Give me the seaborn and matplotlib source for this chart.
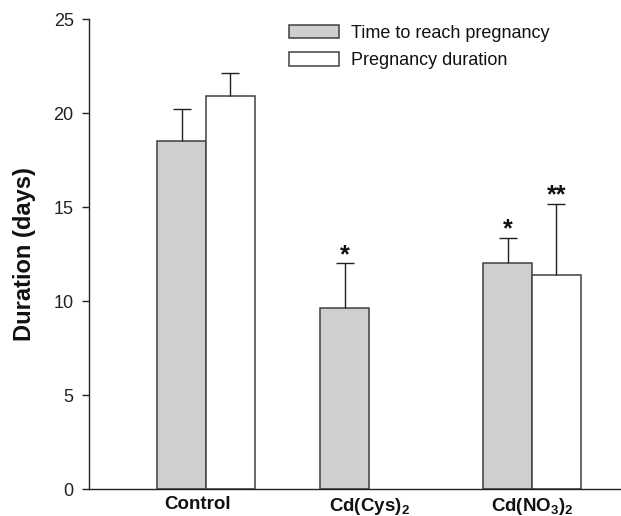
import matplotlib
matplotlib.use("Agg")
import matplotlib.pyplot as plt
import matplotlib.transforms as mtransforms
import seaborn as sns
import pandas as pd
import numpy as np

# ---- data ----
groups = ["Control", "Cd(Cys)$_\\mathbf{2}$", "Cd(NO$_\\mathbf{3}$)$_\\mathbf{2}$"]
series = ["Time to reach pregnancy", "Pregnancy duration"]
time_to_pregnancy = [18.5, 9.65, 12.0]
pregnancy_duration = [20.9, np.nan, 11.4]
time_err = [1.7, 2.35, 1.35]
duration_err = [1.25, np.nan, 3.75]
time_sig = ["", "*", "*"]
duration_sig = ["", "", "**"]
y_ticks = [0, 5, 10, 15, 20, 25]

sns.set_theme(style="white")
plt.rcParams["font.family"] = ["Liberation Sans", "DejaVu Sans"]
plt.rcParams["mathtext.fontset"] = "custom"
plt.rcParams["mathtext.rm"] = "Liberation Sans"
plt.rcParams["mathtext.bf"] = "Liberation Sans:bold"

df = pd.DataFrame({
    "group": groups * 2,
    "series": [series[0]] * 3 + [series[1]] * 3,
    "value": time_to_pregnancy + pregnancy_duration,
})
errs = {(series[0], i): e for i, e in enumerate(time_err)}
errs.update({(series[1], i): e for i, e in enumerate(duration_err)})
sigs = {(series[0], i): s for i, s in enumerate(time_sig)}
sigs.update({(series[1], i): s for i, s in enumerate(duration_sig)})

fig = plt.figure(figsize=(6.21, 5.16), dpi=100)
ax = fig.add_axes([89 / 621, 1 - 489 / 516, 532 / 621, 470 / 516])

sns.barplot(data=df, x="group", y="value", hue="series", order=groups,
            hue_order=series, palette=["#cfcfcf", "white"], width=0.6,
            edgecolor="#404040", linewidth=1.1, errorbar=None, ax=ax,
            saturation=1)

for cont, s in zip(ax.containers, series):
    for p in cont.patches:
        h = p.get_height()
        if not np.isfinite(h):
            continue
        cx = p.get_x() + p.get_width() / 2
        gi = int(round(cx))
        e = errs[(s, gi)]
        _, caps, _ = ax.errorbar([cx], [h], yerr=[[0], [e]], fmt="none",
                                 ecolor="#202020", elinewidth=1.0,
                                 capsize=6.8, capthick=1.0, zorder=1)
        for c in caps:
            if abs(c.get_ydata()[0] - h) < 1e-9:
                c.set_visible(False)
        mark = sigs[(s, gi)]
        if mark:
            ax.annotate(mark, (cx, h + e), xytext=(0, -2.5),
                        textcoords="offset points", ha="center", va="bottom",
                        fontsize=18, fontweight="bold", color="#111111")

ax.set_xlim(-0.718, 2.546)
ax.set_ylim(0, 25)
ax.set_yticks(y_ticks)
ax.set_xlabel("")
ax.set_ylabel("Duration (days)", fontsize=17, fontweight="bold", labelpad=13,
              color="#111111")
ax.tick_params(axis="y", which="both", left=True, direction="out", length=5,
               width=1, pad=6, labelsize=13, colors="#222222")
ax.tick_params(axis="x", length=0, pad=5)
for i, lab in enumerate(ax.get_xticklabels()):
    lab.set_fontweight("bold")
    lab.set_fontsize(13.5)
    lab.set_color("#111111")
    if i == 0:
        lab.set_transform(lab.get_transform() +
                          mtransforms.ScaledTranslation(-8 / 100, 0, fig.dpi_scale_trans))

for side in ["top", "right"]:
    ax.spines[side].set_visible(False)
for side in ["left", "bottom"]:
    ax.spines[side].set_color("#222222")
    ax.spines[side].set_linewidth(1.0)

leg = ax.legend(loc="upper left", bbox_to_anchor=((289 - 89) / 532, 0.988),
                frameon=False, fontsize=13, handlelength=2.75, handleheight=0.8,
                handletextpad=0.7, labelspacing=0.55, borderaxespad=0,
                borderpad=0)
for t in leg.get_texts():
    t.set_color("#111111")

fig.savefig("out.png", dpi=100)
